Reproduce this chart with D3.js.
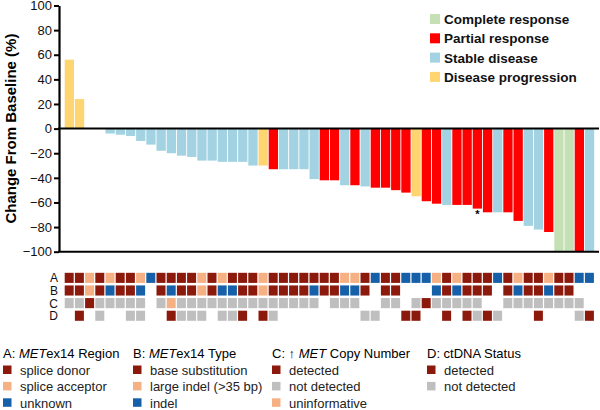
<!DOCTYPE html>
<html><head><meta charset="utf-8">
<script src="https://cdn.jsdelivr.net/npm/d3@7/dist/d3.min.js"></script>
<style>
html,body{margin:0;padding:0;background:#fff;}
text{font-family:"Liberation Sans",Arial,sans-serif;}
</style></head>
<body><svg id="chart" width="600" height="410"></svg>
<script>
// ---- data ----
const values = [56, 24, 0, 0, -4, -5, -6, -10, -13, -18, -20, -22, -23, -26, -26, -27, -27, -27, -30, -30,
  -33, -33, -33, -33, -41, -42, -42, -46, -46, -47, -48, -48, -50, -52, -55, -59, -61, -62, -62, -62,
  -65, -68, -68, -68, -75, -79, -82, -84, -100, -100, -100, -100];
// CR complete, PR partial, SD stable, PD progression
const responses = ["PD","PD","SD","SD","SD","SD","SD","SD","SD","SD","SD","SD","SD","SD","SD","SD","SD","SD","SD","PD",
  "PR","SD","SD","SD","SD","PR","PR","SD","PR","SD","PR","PR","PR","PR","PD","PR","PR","SD","PR","PR",
  "PR","PR","SD","PR","PR","SD","SD","PR","CR","CR","PR","SD"];
const responseLabels = ["Complete response","Partial response","Stable disease","Disease progression"];
const responseKeys = ["CR","PR","SD","PD"];
const starIndex = [40];
const yTicks = [100, 80, 60, 40, 20, 0, -20, -40, -60, -80, -100];
const rowNames = ["A","B","C","D"];
// A: METex14 region  d=splice donor, a=splice acceptor, u=unknown
const rowA = ["d","d","a","d","a","d","d","a","u","d","d","d","d","a","d","a","d","d","d","a","d","d","d","d","d","d",
  "d","a","a","d","u","d","d","u","u","u","a","d","a","d","d","d","u","d","a","d","d","a","d","d","u","u"];
// B: METex14 type  s=base substitution, l=large indel, i=indel, -=none
const rowB = ["s","s","l","s","i","s","s","i","-","s","i","s","s","l","s","i","i","s","s","l","s","s","s","s","i","s",
  "s","i","i","s","-","s","s","-","-","-","i","s","i","s","s","s","-","s","i","s","s","i","s","s","-","-"];
// C: MET copy number  y=detected, n=not detected, x=uninformative, -=none
const rowC = ["n","n","y","n","n","n","n","n","-","n","x","n","n","n","n","n","n","n","n","n","n","n","n","n","n","-",
  "n","n","n","-","-","n","n","-","n","y","n","n","n","n","n","-","-","n","n","n","n","n","n","n","n","-"];
// D: ctDNA status  y=detected, n=not detected, -=none
const rowD = ["-","y","-","n","-","-","n","n","-","-","y","n","n","n","-","n","n","y","-","y","n","-","-","-","-","-",
  "-","-","-","n","n","-","-","y","y","-","-","y","-","y","n","y","n","-","-","-","y","-","-","-","n","y"];
const legendA = ["splice donor","splice acceptor","unknown"];
const legendB = ["base substitution","large indel (>35 bp)","indel"];
const legendC = ["detected","not detected","uninformative"];
const legendD = ["detected","not detected"];

// ---- colours ----
const respColor = {CR:"#c5e0b4", PR:"#ff0000", SD:"#a3d3e2", PD:"#ffd572"};
const DARK="#8c1a0c", ORANGE="#f5b183", BLUE="#1560a8", GREY="#bfbfbf";
const colA = {d:DARK, a:ORANGE, u:BLUE};
const colB = {s:DARK, l:ORANGE, i:BLUE};
const colC = {y:DARK, n:GREY, x:ORANGE};
const colD = {y:DARK, n:GREY};

const svg = d3.select("#chart");
const n = values.length;
const x = d3.scaleBand().domain(d3.range(n)).range([64.3, 594.7]).padding(0);
const y = d3.scaleLinear().domain([-100, 100]).range([251.7, 5.5]);

// bars
svg.append("g").selectAll("rect").data(values).join("rect")
  .attr("x", (d,i)=>x(i)+0.4)
  .attr("width", x.bandwidth()-0.9)
  .attr("y", d=>y(Math.max(0,d)))
  .attr("height", d=>Math.abs(y(d)-y(0)))
  .attr("fill", (d,i)=>respColor[responses[i]]);

// asterisk
svg.append("g").selectAll("text").data(starIndex).join("text")
  .attr("x", i=>x(i)+x.bandwidth()/2)
  .attr("y", i=>y(values[i])+9)
  .attr("text-anchor","middle")
  .attr("font-size",11).attr("font-weight","bold")
  .text("*");

// zero line & bottom line
svg.append("line").attr("x1",58).attr("x2",599).attr("y1",y(0)).attr("y2",y(0))
  .attr("stroke","#000").attr("stroke-width",2);
svg.append("line").attr("x1",58).attr("x2",599).attr("y1",y(-100)).attr("y2",y(-100))
  .attr("stroke","#000").attr("stroke-width",2);

// y axis
const ax = svg.append("g").attr("transform","translate(59,0)")
  .call(d3.axisLeft(y).tickValues(yTicks).tickSize(5).tickSizeOuter(0).tickPadding(2));
ax.select(".domain").attr("stroke-width",2.2);
ax.selectAll(".tick line").attr("stroke-width",2);
ax.selectAll(".tick text").attr("font-size",13).attr("font-family","Liberation Sans, Arial, sans-serif").attr("fill","#111");

svg.append("text").attr("transform",`translate(16,${y(0)}) rotate(-90)`)
  .attr("text-anchor","middle").attr("font-size",15).attr("font-weight","bold")
  .text("Change From Baseline (%)");

// legend top
const lg = svg.append("g");
responseKeys.forEach((k,j)=>{
  const yy = 19 + j*19.3;
  lg.append("rect").attr("x",430).attr("y",yy-5).attr("width",10).attr("height",10).attr("fill",respColor[k]);
  lg.append("text").attr("x",444).attr("y",yy+5).attr("font-size",13.5).attr("font-weight","bold")
    .attr("fill","#111").text(responseLabels[j]);
});

// heatmap
const rows = [[rowA,colA],[rowB,colB],[rowC,colC],[rowD,colD]];
const hy = d3.scaleBand().domain(rowNames).range([272.8, 320.8]).paddingInner(0.2);
rows.forEach(([arr,cmap],r)=>{
  const g = svg.append("g");
  g.selectAll("rect").data(arr.map((c,i)=>({c,i})).filter(d=>d.c!=="-")).join("rect")
    .attr("x",d=>x(d.i)+0.4).attr("width",x.bandwidth()-1.2)
    .attr("y",hy(rowNames[r])).attr("height",hy.bandwidth())
    .attr("fill",d=>cmap[d.c]);
  svg.append("text").attr("x",58).attr("y",hy(rowNames[r])+hy.bandwidth()/2+4.5)
    .attr("text-anchor","end").attr("font-size",12).attr("fill","#111").text(rowNames[r]);
});

// bottom legend
function legendGroup(x0, titleParts, items, colors){
  const g = svg.append("g");
  const t = g.append("text").attr("x",x0).attr("y",357.5).attr("font-size",13).attr("fill","#000");
  titleParts.forEach(p=>{
    t.append("tspan").attr("font-style",p.i?"italic":"normal").text(p.t);
  });
  items.forEach((lab,j)=>{
    const yy = 370.5 + j*16.4;
    g.append("rect").attr("x",x0).attr("y",yy-5).attr("width",8.5).attr("height",8.5).attr("fill",colors[j]);
    g.append("text").attr("x",x0+17).attr("y",yy+4.5).attr("font-size",13).attr("fill","#222").text(lab);
  });
}
legendGroup(3,[{t:"A: "},{t:"MET",i:1},{t:"ex14 Region"}],legendA,[DARK,ORANGE,BLUE]);
legendGroup(133,[{t:"B: "},{t:"MET",i:1},{t:"ex14 Type"}],legendB,[DARK,ORANGE,BLUE]);
legendGroup(272,[{t:"C: ↑ "},{t:"MET",i:1},{t:" Copy Number"}],legendC,[DARK,GREY,ORANGE]);
legendGroup(427,[{t:"D: ctDNA Status"}],legendD,[DARK,GREY]);
</script></body></html>
